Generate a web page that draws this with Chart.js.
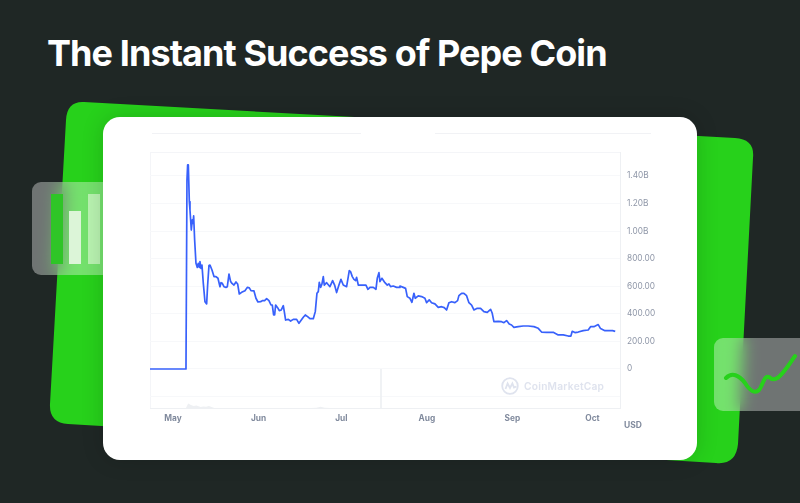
<!DOCTYPE html>
<html>
<head>
<meta charset="utf-8">
<title>The Instant Success of Pepe Coin</title>
<script src="https://cdn.jsdelivr.net/npm/chart.js@4/dist/chart.umd.min.js"></script>
<style>
  html, body { margin: 0; padding: 0; width: 800px; height: 503px; overflow: hidden; background: #1f2725; font-family: Inter, sans-serif; }
  #title { position: absolute; left: 47px; top: 31px; color: #fff; font-size: 36px; font-weight: 700; line-height: 44px; letter-spacing: -0.92px; white-space: nowrap; }
  #shape { position: absolute; left: 0; top: 0; }
  .glass { position: absolute; border-radius: 9px; background: rgba(255,255,255,.36); }
  #glassLeft { left: 32px; top: 182px; width: 90px; height: 93px; -webkit-backdrop-filter: blur(10px); backdrop-filter: blur(10px); }
  #glassRight { left: 714px; top: 338px; width: 110px; height: 73px; -webkit-backdrop-filter: blur(8px); backdrop-filter: blur(8px); }
  .bar { position: absolute; bottom: 11px; width: 12px; }
  #card { position: absolute; left: 103px; top: 117px; width: 594px; height: 343px; background: #fff; border-radius: 17px; box-shadow: 0 0 22px rgba(0,0,0,.16); }
  .rule { position: absolute; top: 133px; height: 1px; background: #f1f2f5; }
  #frame { position: absolute; left: 150px; top: 152px; width: 469px; height: 255px; border: 1px solid #f4f5f8; }
  #chart { position: absolute; left: 0; top: 0; }
  #usd { position: absolute; left: 624px; top: 420px; font-size: 8.5px; font-weight: 700; color: #808a9d; }
  #mark { position: absolute; left: 501px; top: 377px; display: flex; align-items: center; color: #dfe3ee; font-size: 10.2px; font-weight: 600; letter-spacing: .25px; }
  #mark svg { margin-right: 5px; }
</style>
</head>
<body>
<svg id="shape" width="800" height="503">
  <path fill="#27d11b" d="M84 102 L735 138 Q755 139 753 158 L738 444 Q736 465 716 463 L68 424 Q49 423 50 404 L66 120 Q67 101 84 102 Z"/>
</svg>
<div id="title">The Instant Success of Pepe Coin</div>
<div class="glass" id="glassLeft">
  <div class="bar" style="left:19px;height:70px;background:#2fc527"></div>
  <div class="bar" style="left:37px;height:53px;background:#dcf5d8"></div>
  <div class="bar" style="left:56px;height:70px;background:#b8f2b0"></div>
</div>
<div class="glass" id="glassRight"></div>
<svg id="shape2" width="800" height="503" style="position:absolute;left:0;top:0">
  <path fill="none" stroke="#27d11b" stroke-width="4" stroke-linecap="round" d="M726 378 C732 372 739 375 745 383 C750 391 755 394 759 390 C763 385 764 375 769 377 C774 382 779 378 785 370 C789 365 792 360 795 356"/>
</svg>
<div id="card"></div>
<div class="rule" style="left:152px;width:209px"></div>
<div class="rule" style="left:435px;width:216px"></div>
<div id="frame"></div>
<div id="mark">
  <svg width="18" height="18" viewBox="0 0 18 18" fill="none" stroke="#dfe3ee" stroke-width="1.8"><circle cx="9" cy="9" r="7.8"/><path d="M4.5 12 L6.6 6.4 L9 11 L11.4 6.4 L13 10.5 L15.5 9.5"/></svg>
  <span>CoinMarketCap</span>
</div>
<canvas id="chart" width="800" height="503" style="width:800px;height:503px"></canvas>
<div id="usd">USD</div>

<script>
// days counted from 1 May, price in millions on the axis
const priceDays = [-8.33,4.71,5.07,5.31,5.56,5.92,6.16,6.64,7,7.25,7.49,7.85,8.33,8.82,9.18,9.54,9.78,10.14,10.5,10.99,11.59,12.2,12.56,13.04,13.41,14.13,14.86,15.58,16.3,17.03,17.39,17.87,18.48,19.2,19.69,20.29,20.89,21.38,22.1,22.83,23.43,24.03,24.88,26.09,26.93,27.66,28.26,29.35,30.07,30.8,31.76,32.49,33.21,33.94,34.78,35.51,35.99,36.47,36.84,37.2,37.92,38.53,39.25,39.98,40.34,40.82,41.79,42.63,43.6,44.81,45.65,46.5,47.22,47.95,48.79,49.64,50.85,51.57,52.17,52.66,53.02,53.5,53.99,54.47,54.83,55.68,56.88,57.85,58.57,59.3,60.14,60.87,61.71,62.92,63.53,63.89,64.37,64.98,65.58,66.18,66.55,67.15,68.96,69.93,70.65,71.38,72.58,73.55,74.03,74.64,75,75.72,76.81,77.66,78.26,78.86,79.83,81.04,82,82.25,83.45,84.3,84.9,85.87,86.59,87.32,87.8,88.89,90.1,91.3,91.91,92.87,93.72,94.93,96.14,97.34,98.31,99.15,100,100.97,102.17,103.14,103.62,104.59,105.43,106.4,107.25,108.22,109.06,110.27,111.47,112.68,113.89,115.1,115.7,116.3,117.87,119.08,119.93,120.89,121.86,122.7,123.55,125.12,126.93,128.74,130.8,132.37,133.57,135.39,137.8,139.61,141.43,143.24,144.2,144.69,145.65,146.86,148.67,150.48,151.33,152.54,154.11,154.95,156.52,158.33,159.3,160.27];
const priceValues = [0,0,1371,1480,1480,1214,1153,1008,1081,1057,1110,936,767,737,767,737,779,730,754,621,488,472,609,750,754,718,670,670,658,597,626,621,597,592,597,689,634,621,609,631,617,544,556,568,592,588,568,566,513,486,488,496,496,510,496,464,464,392,392,464,445,423,428,459,416,355,360,348,360,360,331,355,375,392,380,365,365,416,549,561,629,592,617,670,609,626,597,641,609,554,609,650,609,597,670,713,706,670,650,641,665,609,609,609,578,592,592,578,658,699,634,658,626,609,617,597,602,592,592,602,592,585,525,513,484,549,513,530,525,513,481,501,481,472,447,452,445,428,481,488,481,496,532,549,549,532,481,464,428,440,440,416,411,433,404,343,346,343,336,351,326,319,302,307,312,312,307,295,268,266,266,247,247,239,239,273,264,268,278,283,307,307,322,293,278,278,278,273];
// faint volume bumps in the lower panel
const volumeDays = [2,4.7,5.5,6.5,7.5,8.5,10,11,12,13,14,15,50,52,53.5,55,57];
const volumeValues = [0,0,0.18,0.12,0.08,0.1,0.04,0.06,0.05,0.08,0.04,0,0,0.01,0.05,0.01,0];
const crossDays = [75.4,75.4];
const crossValues = [0,-283];

const monthDays = [0,31,61,92,123,152];
const monthLabels = ['May','Jun','Jul','Aug','Sep','Oct'];
const priceTicks = [-200,0,200,400,600,800,1000,1200,1400];
const priceLabels = ['','0','200.00','400.00','600.00','800.00','1.00B','1.20B','1.40B'];

function pairs(xs, ys) {
    return xs.map(function(x, i) { return { x: x, y: ys[i] }; });
}

new Chart(document.getElementById('chart'), {
    type: 'line',
    data: {
        datasets: [
            {
                data: pairs(priceDays, priceValues),
                borderColor: '#3861fb',
                borderWidth: 1.7,
                borderJoinStyle: 'round',
                pointRadius: 0,
                tension: 0,
                fill: false
            },
            {
                data: pairs(volumeDays, volumeValues),
                yAxisID: 'vol',
                borderColor: 'transparent',
                backgroundColor: '#eef0f3',
                pointRadius: 0,
                tension: 0,
                fill: 'origin'
            },
            {
                data: pairs(crossDays, crossValues),
                borderColor: '#eef0f3',
                borderWidth: 1,
                pointRadius: 0,
                fill: false
            }
        ]
    },
    options: {
        responsive: false,
        animation: false,
        devicePixelRatio: 1,
        layout: { padding: { left: 150, top: 152, right: 140, bottom: 75 } },
        plugins: { legend: { display: false }, tooltip: { enabled: false } },
        scales: {
            x: {
                type: 'linear',
                min: -8.33,
                max: 162,
                grid: { display: false, drawTicks: false, tickLength: 0 },
                border: { color: '#eef0f3' },
                afterBuildTicks: function(axis) {
                    axis.ticks = monthDays.map(function(d) { return { value: d }; });
                },
                afterFit: function(axis) { axis.height = 20; },
                ticks: {
                    autoSkip: false,
                    maxRotation: 0,
                    padding: 6,
                    color: '#808a9d',
                    font: { family: 'Inter', size: 8.3, weight: '700' },
                    callback: function(value) { return monthLabels[monthDays.indexOf(value)]; }
                }
            },
            y: {
                position: 'right',
                min: -283,
                max: 1574,
                border: { color: '#eef0f3' },
                grid: { color: '#f7f8fa', lineWidth: 1, drawTicks: false },
                afterBuildTicks: function(axis) {
                    axis.ticks = priceTicks.map(function(v) { return { value: v }; });
                },
                afterFit: function(axis) { axis.width = 40; },
                ticks: {
                    autoSkip: false,
                    padding: 7,
                    color: '#8f97a8',
                    font: { family: 'Inter', size: 8.3 },
                    callback: function(value) { return priceLabels[priceTicks.indexOf(value)]; }
                }
            },
            vol: { display: false, min: 0, max: 10 }
        }
    }
});
</script>
</body>
</html>
